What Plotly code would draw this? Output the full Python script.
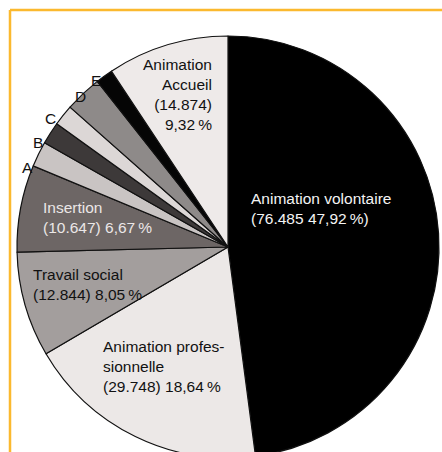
import plotly.graph_objects as go

# Data
categories = ["Animation volontaire", "Animation professionnelle", "Travail social",
              "Insertion", "A", "B", "C", "D", "E", "Animation Accueil"]
values = [76485, 29748, 12844, 10647, 3100, 2730, 2560, 4520, 2100, 14874]
label_lines = [
    ["Animation volontaire", "(76.485 47,92\u2009%)"],
    ["Animation profes-", "sionnelle", "(29.748) 18,64\u2009%"],
    ["Travail social", "(12.844) 8,05\u2009%"],
    ["Insertion", "(10.647) 6,67\u2009%"],
    ["A"], ["B"], ["C"], ["D"], ["E"],
    ["Animation", "Accueil", "(14.874)", "9,32\u2009%"],
]

colors = ["#000000", "#ece8e7", "#a39e9d", "#6d6665", "#c9c4c3",
          "#3d3939", "#dcd7d6", "#8e8a89", "#050505", "#eeeae9"]

W, H = 442, 460
cx, cy, r = 228, 247, 211

fig = go.Figure(go.Pie(
    labels=categories, values=values, sort=False, direction="clockwise",
    rotation=0, textinfo="none", hoverinfo="label+value+percent",
    marker=dict(colors=colors, line=dict(color="#111111", width=1.2)),
    domain=dict(x=[(cx - r) / W, (cx + r) / W], y=[1 - (cy + r) / H, 1 - (cy - r) / H]),
    showlegend=False,
))

# label placement: (x px, y px, xanchor, color)
placements = [
    (249, 209, "left", "#f4f4f4"),
    (101, 366, "left", "#111111"),
    (31, 284, "left", "#111111"),
    (41, 218, "left", "#ebe7e7"),
    (27, 167, "center", "#111111"),
    (38, 142, "center", "#111111"),
    (50, 118, "center", "#111111"),
    (80, 96, "center", "#111111"),
    (96, 80, "center", "#111111"),
    (214, 94.5, "right", "#111111"),
]

annotations = []
for lines, (px, py, xa, col) in zip(label_lines, placements):
    annotations.append(dict(
        x=px / W, y=1 - py / H, xref="paper", yref="paper",
        text="<br>".join(lines), showarrow=False, xanchor=xa, yanchor="middle",
        align=xa if xa != "center" else "center",
        font=dict(family="Liberation Sans, Arial, sans-serif", size=15.5, color=col),
    ))

shapes = [
    dict(type="line", xref="paper", yref="paper", x0=10 / W, x1=1, y0=1 - 10 / H, y1=1 - 10 / H,
         line=dict(color="#fbb92e", width=2.5)),
    dict(type="line", xref="paper", yref="paper", x0=10 / W, x1=10 / W, y0=1 - 10 / H, y1=0,
         line=dict(color="#fbb92e", width=2.5)),
]

fig.update_layout(
    width=W, height=H, margin=dict(l=0, r=0, t=0, b=0),
    paper_bgcolor="white", plot_bgcolor="white",
    annotations=annotations, shapes=shapes,
)

fig.write_html("out.html", post_script="document.documentElement.style.overflow='hidden';document.body.style.overflow='hidden';")
